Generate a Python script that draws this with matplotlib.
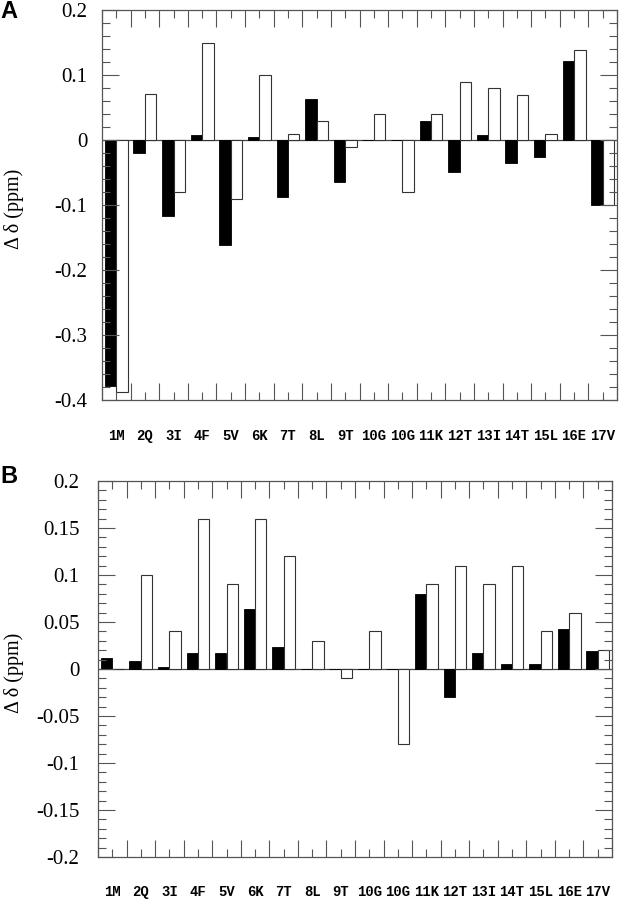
import numpy as np
import matplotlib
matplotlib.use("Agg")
import matplotlib.pyplot as plt
from matplotlib.ticker import MultipleLocator, FixedLocator

residues = ["1M", "2Q", "3I", "4F", "5V", "6K", "7T", "8L", "9T",
            "10G", "10G", "11K", "12T", "13I", "14T", "15L", "16E", "17V"]

# panel A
a_black = [-0.378, -0.020, -0.117, 0.007, -0.161, 0.004, -0.087, 0.063, -0.064,
           0.0, 0.0, 0.030, -0.049, 0.007, -0.035, -0.026, 0.122, -0.100]
a_white = [-0.388, 0.071, -0.080, 0.150, -0.090, 0.100, 0.010, 0.030, -0.010,
           0.040, -0.080, 0.040, 0.090, 0.080, 0.070, 0.010, 0.139, -0.100]

# panel B
b_black = [0.012, 0.0085, 0.002, 0.017, 0.017, 0.064, 0.023, 0.0, 0.0,
           0.0, 0.0, 0.080, -0.030, 0.017, 0.005, 0.005, 0.043, 0.019]
b_white = [0.0, 0.100, 0.040, 0.160, 0.090, 0.160, 0.120, 0.030, -0.010,
           0.040, -0.080, 0.090, 0.110, 0.090, 0.110, 0.040, 0.060, 0.020]

serif = ["Liberation Serif", "DejaVu Serif"]
mono = ["Liberation Mono", "DejaVu Sans Mono"]

fig = plt.figure(figsize=(6.22, 8.99), dpi=100)
axA = fig.add_axes([102/622, 1-400/899, 515/622, 390/899])
axB = fig.add_axes([98/622, 1-857/899, 514/622, 376/899])

x = np.arange(len(residues))
w = 0.4


def draw_panel(ax, black, white, ylim, major, minor, fmt, label_y, pad, ylab_x):
    ax.bar(x - w/2, black, width=w, color="black", edgecolor="black", linewidth=0.6)
    ax.bar(x + w/2, white, width=w, color="white", edgecolor="#333333", linewidth=0.8)
    ax.axhline(0, color="#444444", linewidth=0.9, zorder=0.5)
    ax.set_xlim(-0.5, 17.5)
    ax.set_ylim(*ylim)
    ax.yaxis.set_major_locator(MultipleLocator(major))
    ax.yaxis.set_minor_locator(MultipleLocator(minor))
    ax.xaxis.set_major_locator(FixedLocator(np.arange(-0.5, 18, 1.0)))
    ax.xaxis.set_minor_locator(FixedLocator(x))
    ax.set_xticklabels([])
    ax.set_yticks(ax.get_yticks())
    ticks = ax.get_yticks()
    ax.set_yticklabels([fmt(t) for t in ticks], family=serif, fontsize=15)
    ax.set_ylim(*ylim)
    ax.tick_params(which="major", direction="in", length=12, width=0.8,
                   color="#555555", top=True, right=True, pad=pad)
    ax.tick_params(which="minor", direction="in", length=6, width=0.8,
                   color="#555555", top=True, right=True)
    for s in ax.spines.values():
        s.set_color("#555555")
        s.set_linewidth(0.9)
    ax.set_ylabel("\u0394 \u03b4 (ppm)", family=serif, fontsize=14.5)
    ax.yaxis.set_label_coords(ylab_x, 0.49)
    for i, r in enumerate(residues):
        ax.text(i, label_y, r, transform=ax.get_xaxis_transform(),
                ha="center", va="center", family=mono, fontweight="bold",
                fontsize=10, clip_on=False)


def fmt_a(t):
    t = round(t, 3)
    if abs(t) < 1e-9:
        return "0"
    return ("%.1f" % t)


def fmt_b(t):
    t = round(t, 3)
    if abs(t) < 1e-9:
        return "0"
    s = ("%.2f" % t).rstrip("0")
    return s


draw_panel(axA, a_black, a_white, (-0.4, 0.2), 0.1, 0.02, fmt_a, -0.092, 10.5, -0.151)
draw_panel(axB, b_black, b_white, (-0.2, 0.2), 0.05, 0.01, fmt_b, -0.093, 13.5, -0.143)

fig.text(0.0, 1-11/899, "A", fontsize=17, fontweight="bold", family="Liberation Sans",
         va="center", ha="left")
fig.text(0.0, 1-477/899, "B", fontsize=17, fontweight="bold", family="Liberation Sans",
         va="center", ha="left")

fig.savefig("out.png", dpi=100)
